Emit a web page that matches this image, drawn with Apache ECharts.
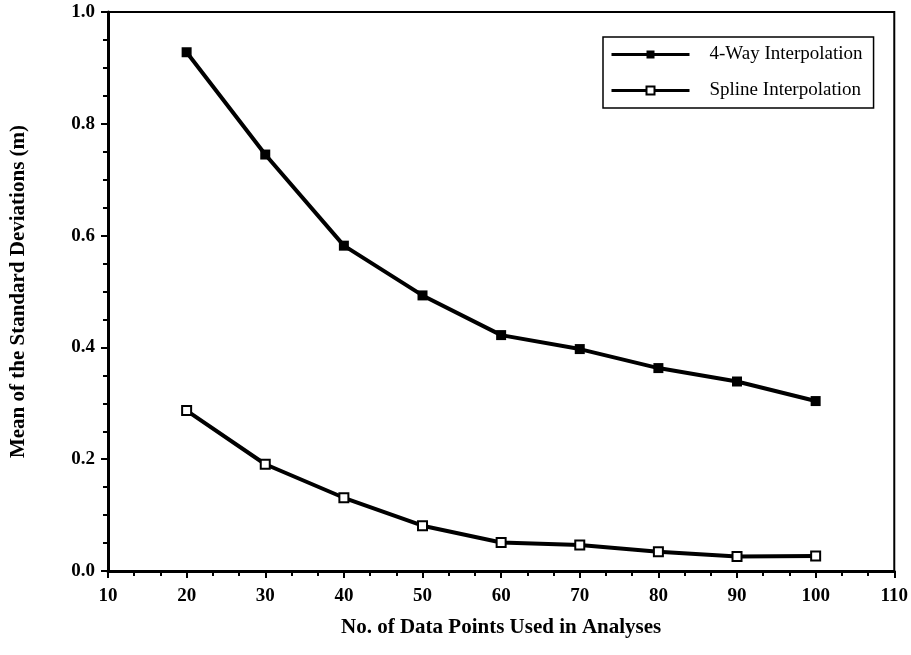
<!DOCTYPE html>
<html>
<head>
<meta charset="utf-8">
<script src="https://cdn.jsdelivr.net/npm/echarts@6/dist/echarts.min.js"></script>
<style>
html,body{margin:0;padding:0;background:#fff;}
#chart{width:911px;height:655px;}
</style>
</head>
<body>
<div id="chart"></div>
<script>
const dataPoints = [20, 30, 40, 50, 60, 70, 80, 90, 100];
const fourWay = [0.928, 0.745, 0.582, 0.493, 0.422, 0.397, 0.363, 0.339, 0.304];
const spline = [0.287, 0.191, 0.131, 0.081, 0.051, 0.0465, 0.0345, 0.026, 0.027];
const seriesNames = ['4-Way Interpolation', 'Spline Interpolation'];
const xTitle = 'No. of Data Points Used in Analyses';
const yTitle = 'Mean of the Standard Deviations (m)';

const font = 'Liberation Serif, Times New Roman, serif';
const chart = echarts.init(document.getElementById('chart'));
chart.setOption({
  backgroundColor: '#fff',
  animation: false,
  grid: {
    left: 108, right: 15, top: 12, bottom: 84,
    show: true, borderColor: '#000', borderWidth: 2, backgroundColor: 'transparent'
  },
  legend: {
    left: 603, top: 37,
    orient: 'vertical',
    data: seriesNames,
    itemWidth: 78, itemHeight: 10,
    itemGap: 17,
    padding: [8, 11, 8, 7],
    borderColor: '#000', borderWidth: 1.5,
    lineStyle: { width: 3 },
    textStyle: { fontFamily: font, fontSize: 19, color: '#000', padding: [0, 0, 0, 15] }
  },
  xAxis: {
    type: 'value', min: 10, max: 110, interval: 10,
    name: xTitle, nameLocation: 'middle', nameGap: 46,
    nameTextStyle: { fontFamily: font, fontSize: 21, fontWeight: 'bold', color: '#000' },
    axisLine: { lineStyle: { color: '#000', width: 3 } },
    axisTick: { show: true, inside: false, length: 7, lineStyle: { color: '#000', width: 2 } },
    minorTick: { show: true, splitNumber: 3, length: 5, lineStyle: { color: '#000', width: 2 } },
    splitLine: { show: false },
    axisLabel: { fontFamily: font, fontSize: 19, fontWeight: 'bold', color: '#000', margin: 16 }
  },
  yAxis: {
    type: 'value', min: 0, max: 1.0, interval: 0.2,
    name: yTitle, nameLocation: 'middle', nameGap: 79,
    nameTextStyle: { fontFamily: font, fontSize: 21, fontWeight: 'bold', color: '#000' },
    axisLine: { lineStyle: { color: '#000', width: 3 } },
    axisTick: { show: true, inside: false, length: 7, lineStyle: { color: '#000', width: 2 } },
    minorTick: { show: true, splitNumber: 4, length: 5, lineStyle: { color: '#000', width: 2 } },
    splitLine: { show: false },
    axisLabel: { fontFamily: font, fontSize: 19, fontWeight: 'bold', color: '#000', margin: 13,
      formatter: v => v.toFixed(1) }
  },
  series: [
    {
      name: seriesNames[0], type: 'line',
      data: dataPoints.map((x, i) => [x, fourWay[i]]),
      symbol: 'rect', symbolSize: 10,
      itemStyle: { color: '#000', borderColor: '#000', borderWidth: 0 },
      lineStyle: { color: '#000', width: 4 }
    },
    {
      name: seriesNames[1], type: 'line',
      data: dataPoints.map((x, i) => [x, spline[i]]),
      symbol: 'rect', symbolSize: 9,
      itemStyle: { color: '#fff', borderColor: '#000', borderWidth: 2 },
      lineStyle: { color: '#000', width: 4 }
    }
  ]
});
</script>
</body>
</html>
